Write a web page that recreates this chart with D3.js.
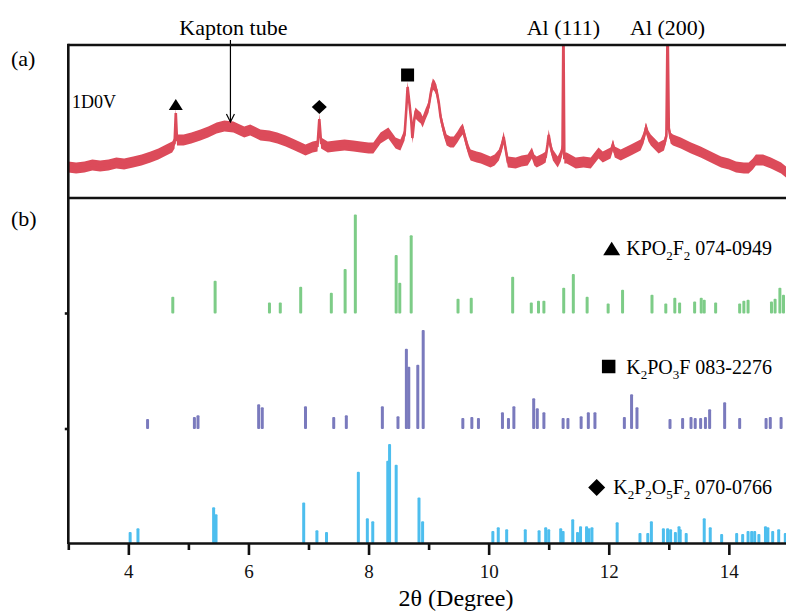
<!DOCTYPE html>
<html>
<head>
<meta charset="utf-8">
<script src="https://cdn.jsdelivr.net/npm/d3@7"></script>
<style>
body{margin:0;background:#fff;}
svg{font-family:"Liberation Serif","Times New Roman",serif;}
</style>
</head>
<body>
<div id="viz-container"></div>
<script>

let twoTheta = [3.00,3.13,3.27,3.40,3.53,3.67,3.80,3.93,4.08,4.22,4.37,4.50,4.63,4.73,4.77,4.79,4.81,4.92,5.05,5.20,5.33,5.47,5.60,5.75,5.93,6.03,6.10,6.20,6.35,6.48,6.62,6.77,6.95,7.07,7.15,7.18,7.21,7.32,7.45,7.60,7.75,7.87,8.00,8.08,8.20,8.33,8.45,8.53,8.60,8.63,8.65,8.68,8.71,8.73,8.76,8.78,8.83,8.87,8.90,8.95,9.00,9.04,9.07,9.10,9.13,9.17,9.20,9.25,9.30,9.36,9.42,9.48,9.53,9.57,9.60,9.63,9.67,9.70,9.80,9.87,9.95,10.03,10.10,10.17,10.22,10.25,10.28,10.32,10.45,10.55,10.65,10.72,10.76,10.80,10.90,10.95,10.98,11.00,11.03,11.07,11.15,11.20,11.23,11.245,11.26,11.30,11.45,11.58,11.70,11.83,11.90,12.03,12.07,12.10,12.20,12.37,12.53,12.58,12.62,12.66,12.70,12.83,12.92,12.96,12.98,13.00,13.03,13.07,13.20,13.37,13.53,13.70,13.87,14.00,14.12,14.25,14.33,14.40,14.45,14.57,14.70,14.87,14.97];
let counts = [31,30,31,33,32,33,35,34,36,38,41,44,48,51,55,85,58,58,60,63,66,70,72,71,66,68,66,63,62,60,57,53,48,51,52,79,55,51,52,53,52,51,50,50,60,65,55,53,63,90,111,95,78,60,78,85,82,80,76,84,91,106,114,112,108,95,81,68,58,56,56,61,66,69,62,55,47,43,41,40,38,36,38,43,52,61,50,36,35,37,38,45,38,36,39,41,53,63,52,43,36,42,50,175,40,40,35,36,35,45,41,45,53,46,43,48,53,60,70,62,58,50,53,62,175,70,60,58,55,50,46,41,36,34,31,30,30,34,38,38,35,30,25];

// reference patterns [2theta, relative intensity]
let kpo2f2 = [[4.74,17],[5.445,33],[6.35,11],[6.53,11],[6.87,27],[7.38,21],[7.61,45],[7.78,100],[8.46,59],[8.52,31],[8.71,79],[9.49,15],[9.71,16],[10.40,37],[10.71,11],[10.83,13],[10.92,13],[11.25,26],[11.41,40],[11.64,17],[11.99,10],[12.23,24],[12.72,19],[12.95,10],[13.10,16],[13.18,11],[13.43,12],[13.54,16],[13.59,14],[13.78,11],[14.18,10],[14.25,13],[14.32,14],[14.71,12],[14.77,15],[14.85,26],[14.91,19]];
let k2po3f = [[4.32,10],[5.10,12],[5.16,14],[6.17,25],[6.23,22],[6.95,23],[7.42,12],[7.63,14],[8.23,23],[8.49,13],[8.63,81],[8.67,63],[8.82,65],[8.91,100],[9.57,11],[9.72,12],[9.83,11],[10.23,17],[10.33,11],[10.42,23],[10.75,31],[10.81,21],[10.92,17],[11.24,11],[11.32,11],[11.54,13],[11.66,17],[11.77,17],[12.26,12],[12.38,35],[12.47,22],[13.02,10],[13.23,11],[13.37,12],[13.44,11],[13.53,11],[13.61,12],[13.68,20],[13.93,27],[14.18,11],[14.62,11],[14.69,12],[14.87,12]];
let k2p2o5f2 = [[4.03,11],[4.16,15],[5.42,36],[5.46,29],[6.92,41],[7.14,13],[7.30,11],[7.83,72],[7.98,25],[8.07,22],[8.32,83],[8.35,100],[8.46,79],[8.84,46],[8.90,22],[10.07,12],[10.16,16],[10.30,14],[10.61,14],[10.84,13],[10.95,16],[11.00,14],[11.20,15],[11.24,12],[11.40,24],[11.48,11],[11.53,17],[11.63,17],[11.67,15],[11.72,16],[12.14,21],[12.52,10],[12.65,10],[12.71,22],[12.91,15],[12.98,15],[13.03,14],[13.11,11],[13.17,17],[13.19,14],[13.29,10],[13.59,25],[13.69,16],[13.88,9],[14.13,10],[14.23,9],[14.32,12],[14.38,12],[14.43,12],[14.50,9],[14.61,17],[14.65,16],[14.73,12],[14.83,14],[14.94,10]];

let majorTicks = [4,6,8,10,12,14];
let minorTicks = [3,5,7,9,11,13,15];

let W=786, H=613;
let left=68.3, right=788.9;
let topA=45, botA=198;

let viz = d3.select("#viz-container")
    .append("svg")
        .attr("width", W)
        .attr("height", H);

let x = d3.scaleLinear().domain([3,15]).range([left,right]);
let yA = d3.scaleLinear().domain([0,153]).range([botA,topA]);
let hStick = d3.scaleLinear().domain([0,100]).range([0,99]);

// ---- panel (a) ----
viz.append("clipPath").attr("id","clipA")
    .append("rect").attr("x",left).attr("y",topA).attr("width",W-left).attr("height",botA-topA);

let pts = twoTheta.map((t,i)=>[t,counts[i]]);
let noise = 5.5; // half width of the noisy band

let band = d3.area()
    .x(d=>x(d[0]))
    .y0(d=>yA(d[1]-noise))
    .y1(d=>yA(d[1]+noise));

let gA = viz.append("g").attr("clip-path","url(#clipA)");
gA.append("path").datum(pts)
    .attr("d",band)
    .attr("fill","#dc4b5a");
gA.append("path").datum(pts)
    .attr("d",d3.line().x(d=>x(d[0])).y(d=>yA(d[1])))
    .attr("fill","none")
    .attr("stroke","#dc4b5a")
    .attr("stroke-width",2.6);

// markers above peaks
function triPath(w,h){ return "M0,"+(-h/2)+"L"+(w/2)+","+(h/2)+"L"+(-w/2)+","+(h/2)+"Z"; }
function diaPath(w,h){ return "M0,"+(-h/2)+"L"+(w/2)+",0L0,"+(h/2)+"L"+(-w/2)+",0Z"; }
function sqPath(s){ return "M"+(-s/2)+","+(-s/2)+"h"+s+"v"+s+"h"+(-s)+"Z"; }

viz.append("path").attr("d",triPath(14,11)).attr("transform","translate("+x(4.79)+","+(yA(85)-8.5)+")");
viz.append("path").attr("d",diaPath(15,14)).attr("transform","translate("+x(7.18)+","+(yA(79)-12)+")");
viz.append("path").attr("d",sqPath(13)).attr("transform","translate("+x(8.65)+","+(yA(111)-12)+")");

viz.append("text").text("1D0V").attr("x",72).attr("y",108).attr("font-size",18);

// annotations
viz.append("text").text("Kapton tube").attr("x",x(5.7)+3).attr("y",35)
    .attr("text-anchor","middle").attr("font-size",22);
viz.append("line").attr("x1",x(5.7)).attr("x2",x(5.7)).attr("y1",40).attr("y2",122)
    .attr("stroke","#000").attr("stroke-width",1.2);
viz.append("path").attr("d","M"+(x(5.7)-4)+",114L"+x(5.7)+",122L"+(x(5.7)+4)+",114")
    .attr("fill","none").attr("stroke","#000").attr("stroke-width",1.2);
viz.append("text").text("Al (111)").attr("x",x(11.245)).attr("y",35)
    .attr("text-anchor","middle").attr("font-size",22);
viz.append("text").text("Al (200)").attr("x",x(12.98)).attr("y",35)
    .attr("text-anchor","middle").attr("font-size",22);

viz.append("text").text("(a)").attr("x",11).attr("y",66).attr("font-size",22);
viz.append("text").text("(b)").attr("x",11).attr("y",226).attr("font-size",22);

// ---- panel (b) ----
let phases = [
    {data:kpo2f2, base:313.5, color:"#7dcc87"},
    {data:k2po3f, base:429, color:"#7a7abd"},
    {data:k2p2o5f2, base:543, color:"#4dbeee"}
];

phases.forEach(function(p){
    let g = viz.append("g").attr("transform","translate(0,"+p.base+")");
    g.selectAll("rect").data(p.data).enter().append("rect")
        .attr("x",d=>x(d[0])-1.5)
        .attr("y",d=>-hStick(d[1]))
        .attr("width",3)
        .attr("height",d=>hStick(d[1]))
        .attr("rx",1)
        .attr("fill",p.color);
});

// legend labels: parts [text, isSub]
let labels = [
    {parts:[["KPO",0],["2",1],["F",0],["2",1],[" 074-0949",0]], y:255, mark:"tri"},
    {parts:[["K",0],["2",1],["PO",0],["3",1],["F 083-2276",0]], y:374, mark:"sq"},
    {parts:[["K",0],["2",1],["P",0],["2",1],["O",0],["5",1],["F",0],["2",1],[" 070-0766",0]], y:494, mark:"dia"}
];

labels.forEach(function(l){
    let t = viz.append("text").attr("x",772).attr("y",l.y)
        .attr("text-anchor","end").attr("font-size",20);
    let shift = 0;
    l.parts.forEach(function(p){
        let dy = (p[1]?5:0) - shift;
        shift = p[1]?5:0;
        t.append("tspan").text(p[0]).attr("dy",dy).attr("font-size",p[1]?13:20);
    });
    let bb = t.node().getBBox();
    let cy = l.y - 6.5;
    if(l.mark=="tri"){
        viz.append("path").attr("d",triPath(17,13.5)).attr("transform","translate("+(bb.x-6-8.5)+","+cy+")");
    } else if(l.mark=="sq"){
        viz.append("path").attr("d",sqPath(13.5)).attr("transform","translate("+(bb.x-11-6.5)+","+(cy-1)+")");
    } else {
        viz.append("path").attr("d",diaPath(17,17)).attr("transform","translate("+(bb.x-8-8.5)+","+cy+")");
    }
});

// ---- frame and axes ----
let frame = viz.append("g").attr("stroke","#111").attr("stroke-width",2.6).attr("fill","none");
frame.append("line").attr("x1",left).attr("x2",W).attr("y1",topA).attr("y2",topA);
frame.append("line").attr("x1",left-1.3).attr("x2",W).attr("y1",botA).attr("y2",botA);
frame.append("line").attr("x1",left).attr("x2",left).attr("y1",topA-1.3).attr("y2",544);
[313.5,429].forEach(function(b){
    frame.append("line").attr("x1",left-3.5).attr("x2",left).attr("y1",b).attr("y2",b);
});

let xAxis = viz.append("g").attr("transform","translate(0,543)")
    .call(d3.axisBottom(x).tickValues(majorTicks).tickSize(12).tickSizeOuter(0).tickPadding(10));
xAxis.select(".domain").attr("stroke","#111").attr("stroke-width",2.6);
xAxis.selectAll(".tick line").attr("stroke","#111").attr("stroke-width",2.6);
xAxis.selectAll(".tick text").attr("font-size",19).attr("font-family","Liberation Serif").attr("fill","#111");

let xMinor = viz.append("g").attr("transform","translate(0,543)")
    .call(d3.axisBottom(x).tickValues(minorTicks).tickSize(7).tickFormat(""));
xMinor.select(".domain").remove();
xMinor.selectAll(".tick line").attr("stroke","#111").attr("stroke-width",2.6);

viz.append("text").attr("x",456).attr("y",606).attr("text-anchor","middle")
    .attr("font-size",24).text("2θ (Degree)");

</script>
</body>
</html>
